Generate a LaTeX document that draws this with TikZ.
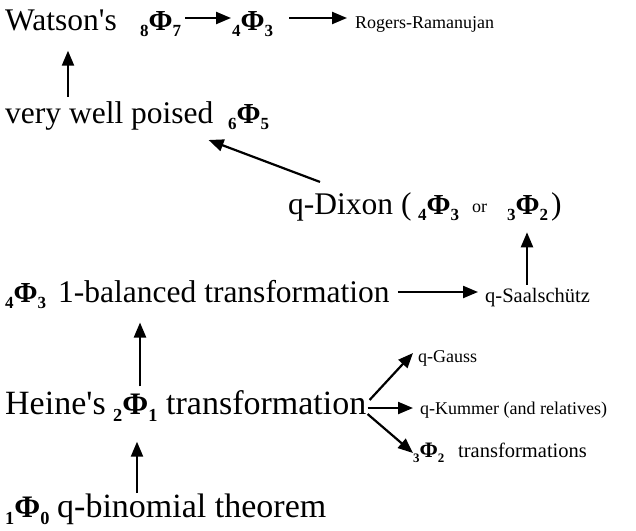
\documentclass[tikz,border=0pt]{standalone}
\usepackage{fontspec}
\setmainfont{Liberation Serif}[Ligatures=TeXOff]
\usetikzlibrary{arrows.meta}
\newcommand{\Ph}[2]{\textbf{\raisebox{-0.22em}{\scalebox{0.54}{#1}}\scalebox{0.92}{Φ}\raisebox{-0.22em}{\scalebox{0.54}{#2}}}}
\tikzset{
  big/.style={font=\fontsize{31.5}{34}\selectfont, inner sep=0pt, anchor=base west},
  bigger/.style={font=\fontsize{34}{38}\selectfont, inner sep=0pt, anchor=base west},
  sml/.style={font=\fontsize{18}{20}\selectfont, inner sep=0pt, anchor=base west},
  smlb/.style={font=\fontsize{20.5}{23}\selectfont, inner sep=0pt, anchor=base west},
  mid/.style={font=\fontsize{24}{26}\selectfont, inner sep=0pt, anchor=base west},
  arr/.style={line width=2.2pt, -{Triangle[length=15pt,width=12pt]}},
}
\begin{document}
\begin{tikzpicture}[x=1pt,y=-1pt]
\useasboundingbox (0,0) rectangle (636,530);
% row 1
\node[big] (watson) at (5,30) {Watson's};
\node[big] (p87) at (140,30) {\Ph87};
\node[big] (p43t) at (232,30) {\Ph43};
\node[sml] (rr) at (355,28) {Rogers-Ramanujan};
% row 2
\node[big] (vwp) at (5,123) {very well poised};
\node[big] (p65) at (228,123) {\Ph65};
% row 3
\node[big] (dixon) at (288,214) {q-Dixon (};
\node[big] (p43d) at (418,214) {\Ph43};
\node[sml] (orw) at (472,212) {or};
\node[big] (p32d) at (507,214) {\Ph32};
\node[big] (rpar) at (551,214) {)};
% row 4
\node[big] (p43b) at (5,302) {\Ph43};
\node[big] (bal) at (58,302) {1-balanced transformation};
\node[smlb] (saal) at (485,302) {q-Saalschütz};
% row 5
\node[bigger] (heine) at (5,414) {Heine's};
\node[bigger] (p21) at (113,414) {\Ph21};
\node[bigger] (trans) at (166,414) {transformation};
\node[sml] (gauss) at (418,362) {q-Gauss};
\node[sml] (kummer) at (420,414) {q-Kummer (and relatives)};
\node[mid] (p32t) at (413,457) {\Ph32};
\node[smlb] (trs) at (458,457) {transformations};
% row 6
\node[bigger] (p10) at (5,517) {\Ph10};
\node[bigger] (binom) at (57,517) {q-binomial theorem};
% arrows
\draw[arr] ([xshift=4pt]p87.east |- 0,18) -- ([xshift=-1pt]p43t.west |- 0,18);
\draw[arr] ([xshift=16pt]p43t.east |- 0,18) -- ([xshift=-8pt]rr.west |- 0,18);
\draw[arr] ([yshift=4pt]vwp.north -| 68,0) -- ([yshift=-20pt]watson.south -| 68,0);
\draw[arr] ([xshift=32pt,yshift=10pt]dixon.north west) -- ([xshift=-5pt,yshift=-10pt]vwp.south east);
\draw[arr] ([yshift=3pt]saal.north -| 527,0) -- ([yshift=-11pt]p32d.south -| 527,0);
\draw[arr] ([xshift=8pt]bal.east |- 0,292) -- ([xshift=-7pt]saal.west |- 0,292);
\draw[arr] ([yshift=5pt]heine.north -| 140,0) -- ([yshift=-20pt]bal.south -| 140,0);
\draw[arr] (binom.north -| 137,0) -- ([yshift=-20pt]p21.south -| 137,0);
\draw[arr] ([xshift=3pt]trans.east |- 0,400) -- ([xshift=-5pt]gauss.west |- 0,353);
\draw[arr] ([xshift=1pt]trans.east |- 0,408) -- ([xshift=-7pt]kummer.west |- 0,408);
\draw[arr] ([xshift=1pt]trans.east |- 0,414) -- ([xshift=0pt]p32t.west |- 0,453);
\end{tikzpicture}
\end{document}
